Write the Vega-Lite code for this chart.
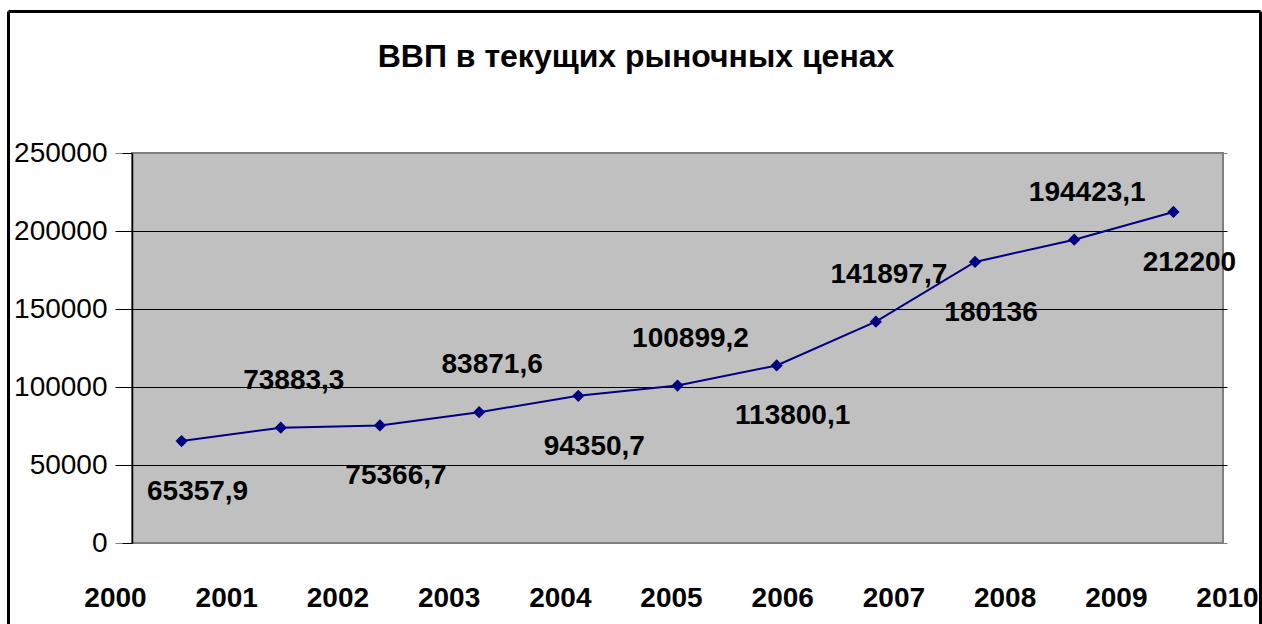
{
  "$schema": "https://vega.github.io/schema/vega-lite/v6.json",
  "width": 1091,
  "height": 390,
  "autosize": "none",
  "padding": {"left": 132, "top": 153, "right": 39, "bottom": 81},
  "background": "white",
  "config": {
    "font": "Liberation Sans",
    "locale": {"number": {"decimal": ",", "thousands": "", "grouping": [3], "currency": ["", ""]}},
    "view": {"fill": "#C0C0C0", "stroke": "#808080", "strokeWidth": 2}
  },
  "title": {
    "text": "ВВП в текущих рыночных ценах",
    "font": "Liberation Sans",
    "fontSize": 32,
    "fontWeight": "bold",
    "color": "black",
    "anchor": "middle",
    "dx": -41.5,
    "offset": -63
  },
  "data": {
    "values": [
      {"year": 2000, "value": 65357.9},
      {"year": 2001, "value": 73883.3},
      {"year": 2002, "value": 75366.7},
      {"year": 2003, "value": 83871.6},
      {"year": 2004, "value": 94350.7},
      {"year": 2005, "value": 100899.2},
      {"year": 2006, "value": 113800.1},
      {"year": 2007, "value": 141897.7},
      {"year": 2008, "value": 180136},
      {"year": 2009, "value": 194423.1},
      {"year": 2010, "value": 212200}
    ]
  },
  "layer": [
    {
      "mark": {"type": "point", "opacity": 0},
      "encoding": {
        "x": {
          "field": "year",
          "type": "quantitative",
          "scale": {"domain": [2000, 2010], "range": [-124, 1128], "nice": false, "zero": false},
          "axis": {
            "orient": "top",
            "offset": 142,
            "title": null,
            "labels": false,
            "ticks": false,
            "grid": false,
            "domain": true,
            "domainColor": "black",
            "domainWidth": 3
          }
        },
        "y": {
          "field": "value",
          "type": "quantitative",
          "scale": {"domain": [0, 250000], "range": [471, -142], "nice": false, "zero": false},
          "axis": {
            "orient": "left",
            "offset": 124,
            "title": null,
            "labels": false,
            "ticks": false,
            "grid": false,
            "domain": true,
            "domainColor": "black",
            "domainWidth": 3
          }
        }
      }
    },
    {
      "mark": {"type": "point", "opacity": 0},
      "encoding": {
        "y": {
          "field": "value",
          "type": "quantitative",
          "scale": {"domain": [0, 250000], "range": [471, -142], "nice": false, "zero": false},
          "axis": {
            "orient": "right",
            "offset": 37,
            "title": null,
            "labels": false,
            "ticks": false,
            "grid": false,
            "domain": true,
            "domainColor": "black",
            "domainWidth": 3
          }
        }
      }
    },
    {
      "mark": {"type": "point", "opacity": 0},
      "encoding": {
        "x": {
          "field": "year",
          "type": "quantitative",
          "scale": {"domain": [2000, 2010], "range": [-17, 1095], "nice": false, "zero": false},
          "axis": {
            "orient": "bottom",
            "values": [2000, 2001, 2002, 2003, 2004, 2005, 2006, 2007, 2008, 2009, 2010],
            "format": "d",
            "title": null,
            "grid": false,
            "ticks": false,
            "tickSize": 0,
            "domain": false,
            "labelFont": "Liberation Sans",
            "labelFontSize": 28,
            "labelFontWeight": "bold",
            "labelColor": "black",
            "labelPadding": 41,
            "labelOverlap": false,
            "labelFlush": false,
            "labelBound": false
          }
        },
        "y": {
          "field": "value",
          "type": "quantitative",
          "scale": {"domain": [0, 250000], "nice": false},
          "axis": {
            "values": [0, 50000, 100000, 150000, 200000, 250000],
            "format": "d",
            "title": null,
            "grid": true,
            "gridColor": {"condition": {"test": "datum.value == 0 || datum.value == 250000", "value": "#808080"}, "value": "black"},
            "gridWidth": 1,
            "domain": true,
            "domainColor": "black",
            "domainWidth": 1.5,
            "ticks": true,
            "tickColor": "black",
            "tickSize": 10,
            "tickWidth": 1,
            "labelFont": "Liberation Sans",
            "labelFontSize": 28,
            "labelColor": "black",
            "labelPadding": 15,
            "labelFlush": false,
            "labelOverlap": false,
            "labelBound": false
          }
        }
      }
    },
    {
      "encoding": {
        "x": {"field": "year", "type": "ordinal", "scale": {"type": "point", "padding": 0.5}, "axis": null},
        "y": {"field": "value", "type": "quantitative", "scale": {"domain": [0, 250000], "nice": false}, "axis": null}
      },
      "layer": [
        {"mark": {"type": "line", "color": "#000080", "strokeWidth": 2}},
        {"mark": {"type": "point", "shape": "diamond", "filled": true, "size": 150, "color": "#000080", "opacity": 1}},
        {
          "transform": [{"filter": "datum.year % 2 == 0"}],
          "mark": {"type": "text", "font": "Liberation Sans", "fontSize": 28, "fontWeight": "bold", "color": "black", "dx": 16, "dy": 51, "align": "center", "baseline": "middle"},
          "encoding": {"text": {"field": "value", "type": "quantitative", "format": ".7~g"}}
        },
        {
          "transform": [{"filter": "datum.year % 2 == 1"}],
          "mark": {"type": "text", "font": "Liberation Sans", "fontSize": 28, "fontWeight": "bold", "color": "black", "dx": 13, "dy": -47, "align": "center", "baseline": "middle"},
          "encoding": {"text": {"field": "value", "type": "quantitative", "format": ".7~g"}}
        }
      ]
    }
  ],
  "resolve": {"scale": {"x": "independent", "y": "independent"}}
}
